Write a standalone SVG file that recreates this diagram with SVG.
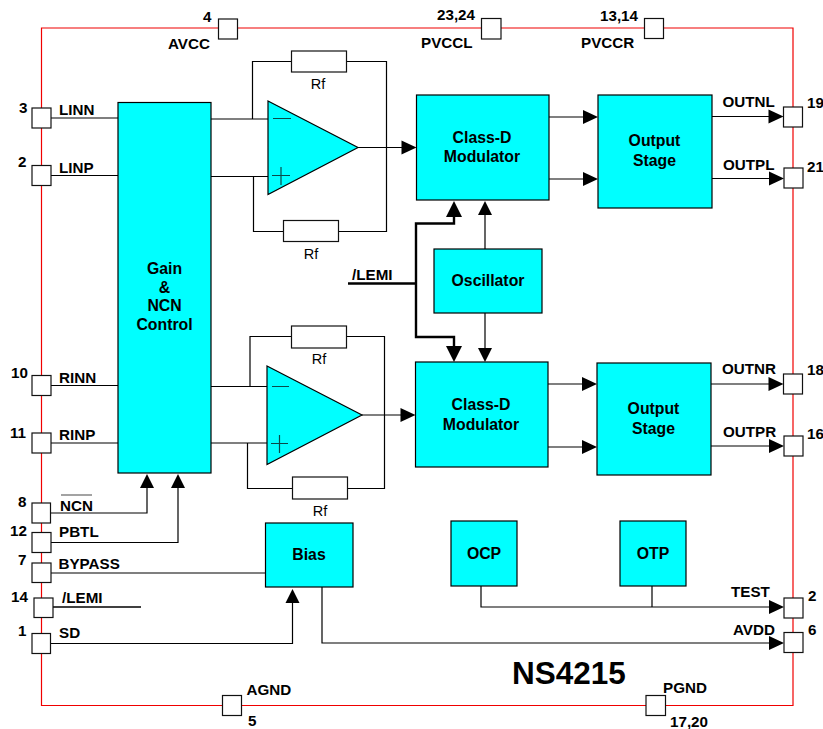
<svg xmlns="http://www.w3.org/2000/svg" width="823" height="729" viewBox="0 0 823 729">
<style>
text{font-family:"Liberation Sans",Arial,sans-serif;font-weight:700;font-size:15.2px;fill:#000}
.r{font-weight:400;font-size:14.5px}
.m{text-anchor:middle}
.b{font-size:15.8px}
.pin{fill:#fff;stroke:#111;stroke-width:1.2}
.blk{fill:#00ffff;stroke:#000;stroke-width:1.2}
.res{fill:#fff;stroke:#111;stroke-width:1.2}
.w{fill:none;stroke:#000;stroke-width:1.2}
.t{fill:none;stroke:#000;stroke-width:2.4}
.h{fill:#000;stroke:none}
.s{fill:none;stroke:#0a4a4a;stroke-width:1.2}
</style>
<defs>
<path id="ar" class="h" d="M0 0L-15-7L-15 7Z"/>
<path id="au" class="h" d="M0 0L-7 14L7 14Z"/>
<path id="ab" class="h" d="M0 0L-8 16L8 16Z"/>
<path id="ad" class="h" d="M0 0L-7-14L7-14Z"/>
<path id="abd" class="h" d="M0 0L-8-16L8-16Z"/>
</defs>
<path d="M41.500 28H793V705.500H41.500Z" fill="none" stroke="#f00000" stroke-width="1.2"/>
<g id="connectors">
<path class="w" d="M51 118H118M51 175.500H118M51 385.500H118M51 443H118"/>
<path class="w" d="M50 513H147V486"/>
<path class="w" d="M51 542.500H178V486"/>
<path class="w" d="M51 573H265"/>
<path class="w" stroke-width="1.6" style="stroke-width:1.6" d="M52 607H141"/>
<path class="w" d="M50 643.500H292.500V601"/>
<path class="w" d="M211 119H268M211 176.500H268M211 386.500H267M211 443H267"/>
<path class="w" d="M252.500 119V61.500H291.500M346.500 61.500H386.500V231.500H338.500M283.500 231.500H253.500V176.500"/>
<path class="w" d="M250 386.500V336.500H291.500M346.500 336.500H384.500V488.500H347.500M292.500 488.500H247.500V443"/>
<path class="w" d="M358 147.500H402"/>
<path class="w" d="M362 415H401"/>
<use href="#ar" x="416.500" y="147.500"/>
<use href="#ar" x="415.500" y="415"/>
<path class="t" d="M348 283.500H416M416 284V223.500H454V212M416 284V337H454V350"/>
<use href="#ab" x="454" y="201"/>
<use href="#abd" x="454" y="362"/>
<path class="w" d="M485 249V210M485 313V350"/>
<use href="#au" x="485" y="201"/>
<use href="#ad" x="485" y="362"/>
<path class="w" d="M549 117H586M549 179H586M548 384H585M548 447H585"/>
<use href="#ar" x="598" y="117"/>
<use href="#ar" x="598" y="179"/>
<use href="#ar" x="597" y="384"/>
<use href="#ar" x="597" y="447"/>
<path class="w" d="M712 116.500H772M712 178.500H772M711 384H772M711 446H772"/>
<use href="#ar" x="783.500" y="116.500"/>
<use href="#ar" x="784" y="178.500"/>
<use href="#ar" x="783.500" y="384"/>
<use href="#ar" x="784" y="446"/>
<path class="w" d="M481 586V607H772M652 586V607"/>
<use href="#ar" x="784" y="607"/>
<path class="w" d="M322 587V643H772"/>
<use href="#ar" x="784" y="643"/>
<use href="#au" x="147" y="474"/>
<use href="#au" x="178" y="474"/>
<use href="#au" x="292.500" y="589"/>
</g>
<g id="gain"><rect class="blk" x="118" y="102.500" width="93" height="370.500"/><text class="m b" x="164.500" y="274">Gain</text><text class="m b" x="164.500" y="293">&amp;</text><text class="m b" x="164.500" y="311">NCN</text><text class="m b" x="164.500" y="330">Control</text></g>
<g id="amp1"><path class="blk" d="M268 101L358 147.500L268 194.500Z"/><path class="s" d="M273 118.500H291M272 175.500H290M281 167V185"/></g>
<g id="amp2"><path class="blk" d="M267 366L362 415L267 464.500Z"/><path class="s" d="M272 386.500H289M271 443.500H288M279.500 435V453"/></g>
<g id="rf1"><rect class="res" x="291.500" y="51" width="55" height="21"/><text class="r m" x="318" y="89">Rf</text></g>
<g id="rf2"><rect class="res" x="283.500" y="220.500" width="55" height="21"/><text class="r m" x="311" y="259">Rf</text></g>
<g id="rf3"><rect class="res" x="291.500" y="326" width="55" height="22"/><text class="r m" x="319" y="364">Rf</text></g>
<g id="rf4"><rect class="res" x="292.500" y="477" width="55" height="22"/><text class="r m" x="320" y="516">Rf</text></g>
<g id="mod1"><rect class="blk" x="416.500" y="95" width="132.500" height="105"/><text class="m b" x="482" y="143">Class-D</text><text class="m b" x="482" y="162">Modulator</text></g>
<g id="out1"><rect class="blk" x="598" y="95" width="114" height="113"/><text class="m b" x="654.500" y="146">Output</text><text class="m b" x="654.500" y="166">Stage</text></g>
<g id="osc"><rect class="blk" x="434" y="249" width="108" height="64"/><text class="m b" x="488" y="286">Oscillator</text></g>
<g id="mod2"><rect class="blk" x="415.500" y="362" width="132.500" height="105"/><text class="m b" x="481" y="410">Class-D</text><text class="m b" x="481" y="430">Modulator</text></g>
<g id="out2"><rect class="blk" x="597" y="363" width="114" height="112"/><text class="m b" x="653.500" y="414">Output</text><text class="m b" x="653.500" y="434">Stage</text></g>
<g id="bias"><rect class="blk" x="265.500" y="523" width="87.500" height="64"/><text class="m b" x="309" y="560">Bias</text></g>
<g id="ocp"><rect class="blk" x="451" y="521" width="66" height="65"/><text class="m b" x="484" y="559">OCP</text></g>
<g id="otp"><rect class="blk" x="620" y="521" width="66" height="65"/><text class="m b" x="653" y="559">OTP</text></g>
<text id="lemi-label" x="352" y="280">/LEMI</text>
<g id="pin4"><rect class="pin" x="218.500" y="19" width="19" height="20"/><text x="203" y="22">4</text><text x="168" y="48.500">AVCC</text></g>
<g id="pin23"><rect class="pin" x="481.500" y="18.500" width="19.500" height="20.500"/><text x="437" y="20">23,24</text><text x="421" y="48">PVCCL</text></g>
<g id="pin13"><rect class="pin" x="644.500" y="18.500" width="19" height="20"/><text x="600" y="21">13,14</text><text x="581" y="48">PVCCR</text></g>
<g id="pin3"><rect class="pin" x="32" y="108" width="19" height="20"/><text x="19" y="113">3</text><text x="59" y="115">LINN</text></g>
<g id="pin2l"><rect class="pin" x="32" y="165.500" width="19" height="20"/><text x="18" y="167">2</text><text x="59" y="173">LINP</text></g>
<g id="pin10"><rect class="pin" x="32" y="375.500" width="19" height="20"/><text x="11" y="378">10</text><text x="59" y="383">RINN</text></g>
<g id="pin11"><rect class="pin" x="32" y="433" width="19" height="20"/><text x="10" y="438">11</text><text x="59" y="440">RINP</text></g>
<g id="pin8"><rect class="pin" x="32" y="503" width="18.500" height="20"/><text x="18" y="507">8</text><text x="60" y="511">NCN</text><path class="w" style="stroke:#666" d="M61 495H92"/></g>
<g id="pin12"><rect class="pin" x="32" y="532.500" width="19" height="20"/><text x="10" y="536">12</text><text x="59" y="537">PBTL</text></g>
<g id="pin7"><rect class="pin" x="32" y="563" width="19" height="19.500"/><text x="18" y="565">7</text><text x="58.500" y="569">BYPASS</text></g>
<g id="pin14"><rect class="pin" x="34" y="598" width="19" height="19.500"/><text x="11" y="602">14</text><text x="62" y="603">/LEMI</text></g>
<g id="pin1"><rect class="pin" x="32" y="633.500" width="18.500" height="20"/><text x="18" y="636">1</text><text x="59" y="638">SD</text></g>
<g id="pin5"><rect class="pin" x="222.500" y="695.500" width="19" height="20"/><text x="246.500" y="695">AGND</text><text x="248" y="726">5</text></g>
<g id="pin17"><rect class="pin" x="646" y="695.500" width="19.500" height="20"/><text x="663" y="693">PGND</text><text x="670" y="727">17,20</text></g>
<g id="pin19"><rect class="pin" x="783.500" y="107" width="19" height="20"/><text x="807" y="108">19</text><text x="722.500" y="107">OUTNL</text></g>
<g id="pin21"><rect class="pin" x="784" y="168" width="19" height="20"/><text x="807" y="172">21</text><text x="723" y="170">OUTPL</text></g>
<g id="pin18"><rect class="pin" x="783.500" y="374" width="19" height="20"/><text x="807" y="375">18</text><text x="722" y="374">OUTNR</text></g>
<g id="pin16"><rect class="pin" x="784" y="436" width="19" height="20"/><text x="807" y="439">16</text><text x="723" y="437">OUTPR</text></g>
<g id="pin2r"><rect class="pin" x="784" y="598" width="19" height="20"/><text x="808" y="601">2</text><text x="731" y="597">TEST</text></g>
<g id="pin6"><rect class="pin" x="784" y="632.500" width="19" height="20"/><text x="808" y="635">6</text><text x="733" y="635">AVDD</text></g>
<text id="title" x="512" y="684" style="font-size:31.500px">NS4215</text>
</svg>
